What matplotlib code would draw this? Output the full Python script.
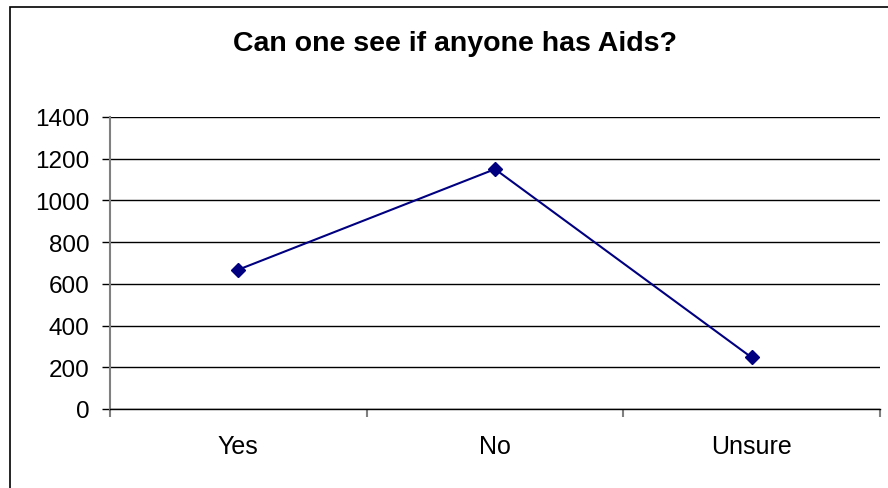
import matplotlib.pyplot as plt
from matplotlib.patches import Rectangle

# values
categories = ['Yes', 'No', 'Unsure']
answers = [668, 1150, 247]
y_ticks = [0, 200, 400, 600, 800, 1000, 1200, 1400]
title = 'Can one see if anyone has Aids?'

plt.rcParams['font.family'] = ['Liberation Sans', 'DejaVu Sans']

W, H = 888, 489
fig = plt.figure(figsize=(W / 100, H / 100), dpi=100)

# outer chart border (right/bottom edges are cut off in the original)
fig.patches.append(Rectangle((10 / W, -0.1), 1.2, 1.1 - 8 / H,
                             transform=fig.transFigure, fill=False,
                             edgecolor='black', linewidth=1.2))

ax = fig.add_axes([110 / W, (H - 410) / H, 770 / W, 292 / H])
x = list(range(len(categories)))
ax.plot(x, answers, color='#000080', linewidth=1.5, marker='D',
        markersize=7.5, markerfacecolor='#000080', markeredgecolor='#000080',
        clip_on=False, zorder=5)

ax.set_xlim(-0.5, len(categories) - 0.5)
ax.set_ylim(0, 1400)
ax.set_yticks(y_ticks)
ax.grid(axis='y', color='black', linewidth=1.0)
ax.set_axisbelow(True)

# category boundaries as major ticks, labels on minor ticks
ax.set_xticks([i - 0.5 for i in range(len(categories) + 1)])
ax.set_xticklabels([])
ax.set_xticks(x, minor=True)
ax.set_xticklabels(categories, minor=True)
ax.tick_params(axis='x', which='major', length=6, width=1.5, color='#808080', direction='out')
ax.tick_params(axis='x', which='minor', length=0, pad=18, labelsize=18)
ax.tick_params(axis='y', length=6, width=1.0, color='black', pad=9, labelsize=17.5)

for s in ['top', 'right']:
    ax.spines[s].set_visible(False)
ax.spines['left'].set_color('#808080')
ax.spines['left'].set_linewidth(1.5)
ax.spines['bottom'].set_color('black')
ax.spines['bottom'].set_linewidth(1.0)

fig.text(455 / W, 1 - 44 / H, title, ha='center', va='center',
         fontsize=20.5, fontweight='bold')

fig.savefig('out.png', dpi=100)
